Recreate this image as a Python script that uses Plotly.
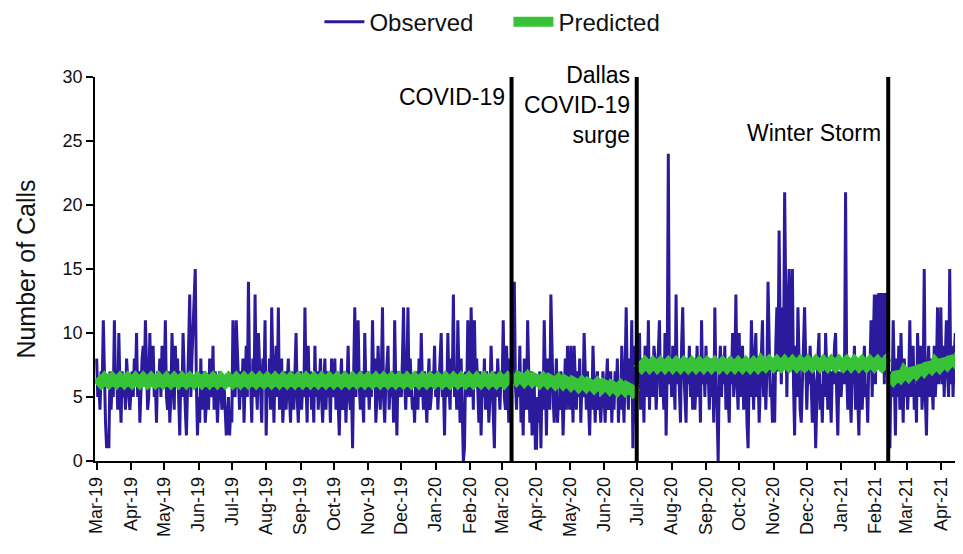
import pandas as pd
import plotly.graph_objects as go

# ---------------- data ----------------
tick_labels = ["Mar-19", "Apr-19", "May-19", "Jun-19", "Jul-19", "Aug-19", "Sep-19",
               "Oct-19", "Nov-19", "Dec-19", "Jan-20", "Feb-20", "Mar-20", "Apr-20",
               "May-20", "Jun-20", "Jul-20", "Aug-20", "Sep-20", "Oct-20", "Nov-20",
               "Dec-20", "Jan-21", "Feb-21", "Mar-21", "Apr-21"]

segment_starts = ["2019-03-01", "2020-03-10", "2020-07-01", "2021-02-13"]

event_dates = ["2020-03-09 12:00", "2020-06-30 12:00", "2021-02-12 12:00"]
event_labels = ["COVID-19", "Dallas<br>COVID-19<br>surge", "Winter Storm"]
event_label_y = [28.4, 27.8, 25.6]

# observed daily calls, Mar 1 2019 - Mar 9 2020
obs_a = [
    8, 5, 6, 4, 7, 6, 11, 5, 3, 1, 2, 1, 7, 4, 6, 5, 11, 6, 7, 4, 10, 6, 3, 7, 5, 6, 4, 8, 6, 5, 4,
    6, 7, 5, 8, 6, 10, 5, 7, 3, 6, 8, 9, 6, 11, 7, 4, 5, 10, 6, 8, 9, 5, 6, 3, 7, 6, 8, 5, 9, 6,
    6, 11, 5, 4, 7, 3, 5, 10, 6, 4, 9, 6, 8, 4, 2, 7, 5, 10, 6, 4, 2, 7, 9, 13, 5, 8, 10, 12, 15, 6, 2,
    5, 3, 8, 4, 6, 7, 3, 5, 6, 4, 8, 6, 5, 9, 4, 7, 6, 3, 5, 7, 6, 4, 5, 6, 4, 2, 3, 5, 2, 4,
    3, 11, 6, 5, 11, 8, 6, 4, 7, 5, 8, 3, 6, 9, 5, 14, 7, 6, 3, 8, 5, 13, 6, 4, 10, 7, 5, 3, 8, 6, 11,
    2, 6, 5, 8, 4, 12, 6, 3, 7, 9, 5, 12, 4, 6, 8, 3, 5, 7, 4, 6, 8, 5, 3, 7, 6, 4, 8, 10, 5, 3, 6,
    7, 4, 6, 5, 12, 6, 3, 9, 5, 7, 4, 6, 3, 9, 5, 7, 4, 6, 8, 5, 3, 6, 8, 4, 7, 5, 6, 3, 8, 5,
    6, 8, 4, 7, 5, 2, 6, 8, 4, 5, 7, 3, 6, 9, 5, 4, 6, 1, 7, 12, 5, 8, 11, 6, 4, 7, 5, 3, 10, 6, 5,
    7, 4, 6, 5, 11, 6, 8, 3, 5, 9, 6, 4, 7, 12, 5, 3, 6, 8, 9, 4, 6, 5, 7, 3, 11, 6, 2, 7, 5, 6,
    5, 8, 12, 6, 4, 7, 12, 5, 8, 6, 4, 5, 3, 7, 6, 4, 8, 5, 10, 6, 4, 7, 5, 3, 6, 8, 4, 5, 7, 6, 9,
    5, 7, 4, 6, 8, 10, 5, 6, 2, 7, 5, 10, 6, 4, 8, 6, 13, 5, 7, 4, 11, 6, 3, 8, 5, 0, 1, 7, 5, 11, 6,
    5, 12, 7, 4, 11, 6, 8, 5, 3, 7, 2, 6, 5, 8, 4, 7, 6, 3, 5, 9, 6, 4, 1, 7, 5, 8, 6, 4, 7,
    6, 11, 5, 4, 9, 6, 3, 8, 5,
]
# Mar 10 2020 - Jun 30 2020
obs_b = [
    7, 9, 14, 6, 4, 7, 5, 9, 3, 6, 2, 8, 5, 4, 11, 6, 3, 7, 2, 5, 6, 1,
    1, 5, 3, 7, 1, 6, 4, 11, 5, 2, 8, 6, 4, 13, 7, 5, 3, 6, 8, 3, 5, 4, 7, 6, 2, 5, 8, 4, 9, 6,
    4, 9, 5, 3, 9, 6, 4, 7, 5, 8, 3, 6, 5, 10, 6, 4, 7, 5, 2, 6, 4, 9, 5, 3, 6, 7, 4, 5, 3, 6, 7,
    5, 3, 6, 8, 4, 5, 7, 3, 6, 4, 7, 5, 8, 3, 6, 4, 9, 5, 3, 7, 12, 6, 4, 8, 5, 11, 1, 6, 9, 3,
]
# Jul 1 2020 - Feb 12 2021
obs_c = [
    9, 6, 10, 4, 8, 7, 3, 9, 6, 5, 11, 4, 8, 7, 5, 9, 8, 4, 6, 9, 11, 5, 8, 6, 4, 10, 2, 7, 24, 6, 8,
    5, 9, 7, 4, 13, 6, 8, 5, 3, 9, 12, 7, 5, 3, 8, 6, 9, 5, 7, 4, 8, 4, 6, 9, 5, 7, 3, 11, 6, 8, 5,
    9, 6, 7, 4, 8, 5, 7, 3, 12, 6, 4, 0, 7, 9, 5, 8, 6, 9, 4, 7, 5, 3, 8, 6, 10, 5, 7, 13, 6, 4,
    10, 5, 7, 9, 4, 6, 8, 3, 1, 7, 5, 11, 6, 4, 8, 10, 5, 7, 3, 6, 9, 11, 5, 8, 4, 7, 14, 9, 5, 6, 3,
    8, 3, 9, 12, 7, 18, 10, 6, 12, 8, 21, 9, 5, 11, 15, 7, 10, 15, 6, 2, 9, 5, 12, 8, 4, 3, 7, 9, 12, 6,
    4, 7, 6, 9, 5, 3, 7, 6, 1, 5, 8, 10, 4, 6, 3, 7, 5, 10, 6, 4, 8, 5, 3, 7, 6, 9, 10, 5, 2, 7, 6,
    5, 7, 8, 6, 21, 7, 4, 8, 5, 3, 7, 6, 9, 4, 8, 5, 2, 7, 8, 4, 6, 9, 5, 6, 3, 8, 7, 11, 5, 9, 13,
    6, 13, 8, 13, 13, 7, 13, 13, 6, 13, 13, 8,
]
# Feb 13 2021 - Apr 20 2021
obs_d = [
    3, 1, 7, 5, 11, 6, 2, 8, 5, 9, 4, 10, 6, 3, 8, 5,
    7, 4, 6, 11, 5, 8, 9, 4, 6, 3, 10, 7, 5, 9, 4, 6, 15, 5, 2, 7, 9, 5, 8, 6, 4, 9, 5, 7, 12, 6, 8,
    12, 6, 9, 5, 8, 11, 7, 5, 15, 6, 9, 5, 8, 10, 6, 9, 7, 5, 9, 10,
]

# predicted daily calls per segment
pred_a = [
    6.5, 6.4, 6.3, 6.2, 6.1, 6.2, 6.4, 6.5, 6.4, 6.3, 6.2, 6.1, 6.2, 6.4,
    6.5, 6.4, 6.3, 6.2, 6.1, 6.2, 6.4, 6.5, 6.4, 6.3, 6.2, 6.1, 6.2, 6.4,
    6.5, 6.4, 6.3, 6.2, 6.1, 6.2, 6.4, 6.5, 6.4, 6.3, 6.2, 6.1, 6.2, 6.4,
    6.5, 6.4, 6.3, 6.2, 6.1, 6.2, 6.4, 6.5, 6.4, 6.3, 6.2, 6.1, 6.2, 6.4,
    6.5, 6.4, 6.3, 6.2, 6.1, 6.2, 6.4, 6.5, 6.4, 6.3, 6.2, 6.1, 6.2, 6.4,
    6.5, 6.4, 6.3, 6.2, 6.1, 6.2, 6.4, 6.5, 6.4, 6.3, 6.2, 6.1, 6.2, 6.4,
    6.5, 6.4, 6.3, 6.2, 6.1, 6.2, 6.4, 6.5, 6.4, 6.3, 6.2, 6.1, 6.2, 6.4,
    6.5, 6.4, 6.3, 6.2, 6.1, 6.2, 6.4, 6.5, 6.4, 6.3, 6.2, 6.1, 6.2, 6.4,
    6.5, 6.4, 6.3, 6.2, 6.1, 6.2, 6.4, 6.5, 6.4, 6.3, 6.2, 6.1, 6.2, 6.4,
    6.5, 6.4, 6.3, 6.2, 6.1, 6.2, 6.4, 6.5, 6.4, 6.3, 6.2, 6.1, 6.2, 6.4,
    6.5, 6.4, 6.3, 6.2, 6.1, 6.2, 6.4, 6.5, 6.4, 6.3, 6.2, 6.1, 6.2, 6.4,
    6.5, 6.4, 6.3, 6.2, 6.1, 6.2, 6.4, 6.5, 6.4, 6.3, 6.2, 6.1, 6.2, 6.4,
    6.5, 6.4, 6.3, 6.2, 6.1, 6.2, 6.4, 6.5, 6.4, 6.3, 6.2, 6.1, 6.2, 6.4,
    6.5, 6.4, 6.3, 6.2, 6.1, 6.2, 6.4, 6.5, 6.4, 6.3, 6.2, 6.1, 6.2, 6.4,
    6.5, 6.4, 6.3, 6.2, 6.1, 6.2, 6.4, 6.5, 6.4, 6.3, 6.2, 6.1, 6.2, 6.4,
    6.5, 6.4, 6.3, 6.2, 6.1, 6.2, 6.4, 6.5, 6.4, 6.3, 6.2, 6.1, 6.2, 6.4,
    6.5, 6.4, 6.3, 6.2, 6.1, 6.2, 6.4, 6.5, 6.4, 6.3, 6.2, 6.1, 6.2, 6.4,
    6.5, 6.4, 6.3, 6.2, 6.1, 6.2, 6.4, 6.5, 6.4, 6.3, 6.2, 6.1, 6.2, 6.4,
    6.5, 6.4, 6.3, 6.2, 6.1, 6.2, 6.4, 6.5, 6.4, 6.3, 6.2, 6.1, 6.2, 6.4,
    6.5, 6.4, 6.3, 6.2, 6.1, 6.2, 6.4, 6.5, 6.4, 6.3, 6.2, 6.1, 6.2, 6.4,
    6.5, 6.4, 6.3, 6.2, 6.1, 6.2, 6.4, 6.5, 6.4, 6.3, 6.2, 6.1, 6.2, 6.4,
    6.5, 6.4, 6.3, 6.2, 6.1, 6.2, 6.4, 6.5, 6.4, 6.3, 6.2, 6.1, 6.2, 6.4,
    6.5, 6.4, 6.3, 6.2, 6.1, 6.2, 6.4, 6.5, 6.4, 6.3, 6.2, 6.1, 6.2, 6.4,
    6.5, 6.4, 6.3, 6.2, 6.1, 6.2, 6.4, 6.5, 6.4, 6.3, 6.2, 6.1, 6.2, 6.4,
    6.5, 6.4, 6.3, 6.2, 6.1, 6.2, 6.4, 6.5, 6.4, 6.3, 6.2, 6.1, 6.2, 6.4,
    6.5, 6.4, 6.3, 6.2, 6.1, 6.2, 6.4, 6.5, 6.4, 6.3, 6.2, 6.1, 6.2, 6.4,
    6.5, 6.4, 6.3, 6.2, 6.1, 6.2, 6.4,
    6.5, 6.4, 6.3, 6.2,
]
pred_b = [
    6.7, 6.6, 6.5, 6.4, 6.3, 6.4, 6.6,
    6.6, 6.5, 6.4, 6.3, 6.2, 6.3, 6.5,
    6.6, 6.5, 6.4, 6.3, 6.2, 6.3, 6.5,
    6.5, 6.4, 6.3, 6.2, 6.1, 6.2, 6.4,
    6.5, 6.4, 6.3, 6.2, 6.1, 6.2, 6.4,
    6.4, 6.3, 6.2, 6.1, 6.0, 6.1, 6.3,
    6.4, 6.3, 6.2, 6.1, 6.0, 6.1, 6.3,
    6.3, 6.2, 6.1, 6.0, 5.9, 6.0, 6.2,
    6.2, 6.1, 6.0, 5.9, 5.8, 5.9, 6.1,
    6.2, 6.1, 6.0, 5.9, 5.8, 5.9, 6.1,
    6.1, 6.0, 5.9, 5.8, 5.7, 5.8, 6.0,
    6.1, 6.0, 5.9, 5.8, 5.7, 5.8, 6.0,
    6.0, 5.9, 5.8, 5.7, 5.6, 5.7, 5.9,
    5.9, 5.8, 5.7, 5.6, 5.5, 5.6, 5.8,
    5.9, 5.8, 5.7, 5.6, 5.5, 5.6, 5.8,
    5.8, 5.7, 5.6, 5.5, 5.4, 5.5, 5.7,
    5.8,
]
pred_c = [
    7.7, 7.6, 7.5, 7.4, 7.3, 7.4, 7.6, 7.7, 7.6, 7.5, 7.4, 7.3, 7.4, 7.6,
    7.7, 7.6, 7.5, 7.4, 7.3, 7.4, 7.6, 7.7, 7.6, 7.5, 7.4, 7.3, 7.4, 7.6,
    7.7, 7.6, 7.5, 7.4, 7.3, 7.4, 7.6, 7.7, 7.6, 7.5, 7.4, 7.3, 7.4, 7.6,
    7.7, 7.6, 7.5, 7.4, 7.3, 7.4, 7.6, 7.7, 7.6, 7.5, 7.4, 7.3, 7.4, 7.6,
    7.7, 7.6, 7.5, 7.4, 7.3, 7.4, 7.6, 7.7, 7.6, 7.5, 7.4, 7.3, 7.4, 7.6,
    7.7, 7.6, 7.5, 7.4, 7.3, 7.4, 7.6, 7.7, 7.6, 7.5, 7.4, 7.3, 7.4, 7.6,
    7.7, 7.6, 7.5, 7.4, 7.3, 7.4, 7.6, 7.7, 7.6, 7.5, 7.4, 7.3, 7.4, 7.6,
    7.7, 7.6, 7.5, 7.4, 7.3, 7.4, 7.6, 7.7, 7.6, 7.5, 7.4, 7.3, 7.4, 7.6,
    7.8, 7.7, 7.6, 7.5, 7.4, 7.5, 7.7, 7.8, 7.7, 7.6, 7.5, 7.4, 7.5, 7.7,
    7.8, 7.7, 7.6, 7.5, 7.4, 7.5, 7.7, 7.8, 7.7, 7.6, 7.5, 7.4, 7.5, 7.7,
    7.8, 7.7, 7.6, 7.5, 7.4, 7.5, 7.7, 7.8, 7.7, 7.6, 7.5, 7.4, 7.5, 7.7,
    7.8, 7.7, 7.6, 7.5, 7.4, 7.5, 7.7, 7.8, 7.7, 7.6, 7.5, 7.4, 7.5, 7.7,
    7.8, 7.7, 7.6, 7.5, 7.4, 7.5, 7.7, 7.8, 7.7, 7.6, 7.5, 7.4, 7.5, 7.7,
    7.8, 7.7, 7.6, 7.5, 7.4, 7.5, 7.7, 7.8, 7.7, 7.6, 7.5, 7.4, 7.5, 7.7,
    7.8, 7.7, 7.6, 7.5, 7.4, 7.5, 7.7, 7.8, 7.7, 7.6, 7.5, 7.4, 7.5, 7.7,
    7.8, 7.7, 7.6, 7.5, 7.4, 7.5, 7.7, 7.8, 7.7, 7.6, 7.5, 7.4, 7.5, 7.7,
    7.8, 7.7, 7.6,
]
pred_d = [
    6.7, 6.6, 6.5, 6.4, 6.3, 6.4, 6.6,
    6.9, 6.8, 6.7, 6.6, 6.5, 6.6, 6.8,
    7.0, 6.9, 6.8, 6.7, 6.6, 6.7, 6.9,
    7.2, 7.1, 7.0, 6.9, 6.8, 6.9, 7.1,
    7.4, 7.3, 7.2, 7.1, 7.0, 7.1, 7.3,
    7.6, 7.5, 7.4, 7.3, 7.2, 7.3, 7.5,
    7.7, 7.6, 7.5, 7.4, 7.3, 7.4, 7.6,
    7.9, 7.8, 7.7, 7.6, 7.5, 7.6, 7.8,
    8.1, 8.0, 7.9, 7.8, 7.7, 7.8, 8.0,
    8.2, 8.1, 8.0, 7.9,
]

# ---------------- figure ----------------
FONT = "Liberation Sans, Arial, sans-serif"
OBS_COLOR = "#2B1A9C"
PRED_COLOR = "#38C238"

obs_segments = [obs_a, obs_b, obs_c, obs_d]
pred_segments = [pred_a, pred_b, pred_c, pred_d]

obs_x, obs_y = [], []
for start, seg in zip(segment_starts, obs_segments):
    obs_x.extend(pd.date_range(start, periods=len(seg), freq="D"))
    obs_y.extend(seg)

fig = go.Figure()
fig.add_trace(go.Scatter(x=obs_x, y=obs_y, mode="lines", name="Observed",
                         line=dict(color=OBS_COLOR, width=3)))
for i, (start, seg) in enumerate(zip(segment_starts, pred_segments)):
    fig.add_trace(go.Scatter(x=pd.date_range(start, periods=len(seg), freq="D"), y=seg,
                             mode="lines", name="Predicted", legendgroup="pred",
                             showlegend=(i == 0),
                             line=dict(color=PRED_COLOR, width=10)))

for d in event_dates:
    fig.add_shape(type="line", xref="x", yref="y", x0=d, x1=d, y0=0, y1=30.2,
                  line=dict(color="black", width=4), layer="above")

for d, lab, yy in zip(event_dates, event_labels, event_label_y):
    fig.add_annotation(x=d, y=yy, xref="x", yref="y", text=lab, showarrow=False,
                       xanchor="right", yanchor="middle", align="right", xshift=-5,
                       font=dict(family=FONT, size=23, color="black"))

tick_vals = pd.date_range("2019-03-01", periods=len(tick_labels), freq="MS")

# the page body adds an 8px margin, so the figure is 8px smaller and its margins compensate
fig.update_layout(
    width=955, height=546,
    margin=dict(l=87, r=0, t=69, b=93),
    paper_bgcolor="white", plot_bgcolor="white",
    font=dict(family=FONT, color="black"),
    legend=dict(orientation="h", xref="container", yref="container",
                x=0.524, xanchor="center", y=0.974, yanchor="middle",
                font=dict(family=FONT, size=24, color="#111"),
                entrywidth=134, entrywidthmode="pixels",
                itemwidth=40, tracegroupgap=0),
    xaxis=dict(type="date", range=["2019-02-27 12:00", "2021-04-21"],
               tickvals=tick_vals, ticktext=tick_labels, tickangle=-90,
               ticks="outside", ticklen=7, tickcolor="black", tickwidth=1.5,
               showline=True, linecolor="black", linewidth=1.5,
               showgrid=False, zeroline=False, automargin=False,
               tickfont=dict(family=FONT, size=18, color="#111")),
    yaxis=dict(range=[0, 30], dtick=5, ticks="outside", ticklen=7,
               tickcolor="black", tickwidth=1.5,
               showline=True, linecolor="black", linewidth=1.5,
               showgrid=False, zeroline=False, automargin=False,
               title=dict(text="Number of Calls", font=dict(family=FONT, size=25, color="#111"),
                          standoff=20),
               tickfont=dict(family=FONT, size=18, color="#111")),
)

fig.write_html("out.html")
